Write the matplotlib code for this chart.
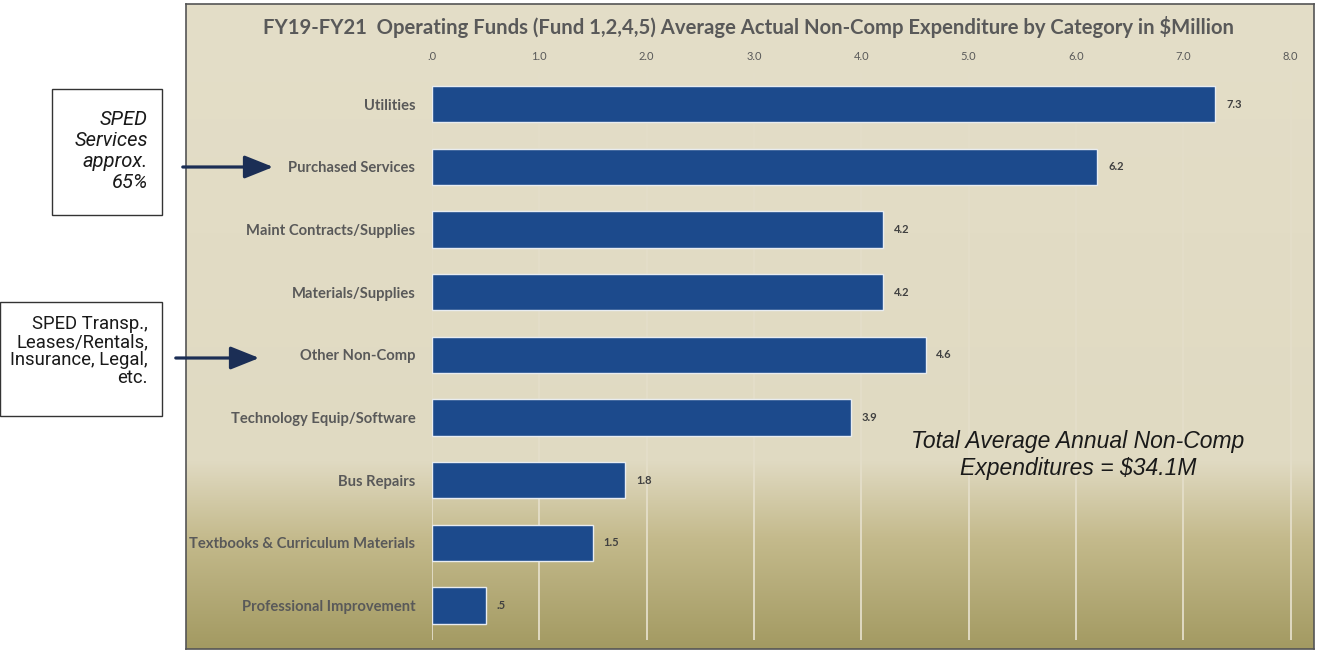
import matplotlib.pyplot as plt
import numpy as np
from matplotlib.patches import Rectangle, FancyArrowPatch
from matplotlib.colors import LinearSegmentedColormap

categories = ['Utilities', 'Purchased Services', 'Maint Contracts/Supplies',
              'Materials/Supplies', 'Other Non-Comp', 'Technology Equip/Software',
              'Bus Repairs', 'Textbooks & Curriculum Materials', 'Professional Improvement']
values = [7.3, 6.2, 4.2, 4.2, 4.6, 3.9, 1.8, 1.5, 0.5]
ticks = [0, 1, 2, 3, 4, 5, 6, 7, 8]

title = 'FY19-FY21  Operating Funds (Fund 1,2,4,5) Average Actual Non-Comp Expenditure by Category in $Million'
note_services = 'SPED\nServices\napprox.\n65%'
note_other = 'SPED Transp.,\nLeases/Rentals,\nInsurance, Legal,\netc.'
total_text = 'Total Average Annual Non-Comp\nExpenditures = $34.1M'

chart_font = ['Lato', 'DejaVu Sans']
note_font = ['Roboto', 'DejaVu Sans']
W, H = 1317, 652


def fmt(v):
    # Excel-style "#.0": no leading zero
    s = f'{v:.1f}'
    return s[1:] if s.startswith('0') else s


fig = plt.figure(figsize=(W / 100, H / 100), dpi=100)
fig.patch.set_facecolor('white')

# panel background with a cream-to-olive vertical gradient
px0, px1, py0, py1 = 186, 1314, 4, 649
bg = fig.add_axes([px0 / W, 1 - py1 / H, (px1 - px0) / W, (py1 - py0) / H])
cmap = LinearSegmentedColormap.from_list(
    'panel', [(0, '#e4dec8'), (0.71, '#e0dac2'), (0.83, '#c4ba8c'), (1, '#a39a62')])
grad = np.linspace(0, 1, 256).reshape(-1, 1)
bg.imshow(grad, aspect='auto', cmap=cmap, extent=[0, 1, 1, 0])
bg.set_xticks([])
bg.set_yticks([])
for s in bg.spines.values():
    s.set_color('#555555')
    s.set_linewidth(1.2)

# chart area
ax = fig.add_axes([432 / W, 1 - 640 / H, (1312 - 432) / W, (640 - 73) / H])
ax.patch.set_alpha(0)
y = np.arange(len(categories))
ax.barh(y, values, height=0.58, color='#1c4a8c', edgecolor='#e8ecf0', linewidth=1.0, zorder=3)
ax.set_xlim(0, 8.2)
ax.set_ylim(len(categories) - 0.45, -0.5)
ax.set_xticks(ticks)
ax.set_xticklabels([fmt(t) for t in ticks], fontsize=8, color='#595959', family=chart_font)
ax.xaxis.tick_top()
ax.tick_params(axis='x', length=0, pad=8)
ax.set_yticks(y)
ax.set_yticklabels(categories, fontsize=10.6, fontweight='bold', color='#595959', family=chart_font)
ax.tick_params(axis='y', length=0, pad=12)
ax.grid(axis='x', color='#e4dec9', linewidth=1.3, zorder=1)
for s in ax.spines.values():
    s.set_visible(False)

for yi, v in zip(y, values):
    ax.text(v + 0.1, yi, fmt(v), va='center', ha='left', fontsize=8,
            fontweight='bold', color='#404040', family=chart_font)

fig.text(749 / W, 1 - 27 / H, title, ha='center', va='center', fontsize=14.6,
         fontweight='bold', color='#595959', family=chart_font)

ax.text(0.734, 0.326, total_text, transform=ax.transAxes, ha='center', va='center',
        fontsize=16.5, style='italic', color='#1a1a1a', linespacing=1.25,
        family=['Liberation Sans', 'DejaVu Sans'])

# left-hand notes with arrows pointing at their categories
fig.patches.append(Rectangle((52 / W, 1 - 215 / H), 110 / W, 126 / H,
                             transform=fig.transFigure, facecolor='white',
                             edgecolor='#333333', linewidth=1))
fig.text(148 / W, 1 - 151 / H, note_services, ha='right', va='center',
         fontsize=14.5, style='italic', color='#1a1a1a', linespacing=1.15, family=note_font)
fig.patches.append(Rectangle((0 / W, 1 - 416 / H), 162 / W, 114 / H,
                             transform=fig.transFigure, facecolor='white',
                             edgecolor='#333333', linewidth=1))
fig.text(148 / W, 1 - 351 / H, note_other, ha='right', va='center',
         fontsize=13.3, color='#1a1a1a', linespacing=1.02, family=note_font)

arrow = dict(arrowstyle='-|>,head_length=0.8,head_width=0.32', color='#1b2e55',
             lw=2.3, mutation_scale=22)
fig.add_artist(FancyArrowPatch((180 / W, 1 - 167 / H), (276 / W, 1 - 167 / H),
                               transform=fig.transFigure, **arrow))
fig.add_artist(FancyArrowPatch((173 / W, 1 - 358 / H), (262 / W, 1 - 358 / H),
                               transform=fig.transFigure, **arrow))

fig.savefig('out.png', dpi=100)
